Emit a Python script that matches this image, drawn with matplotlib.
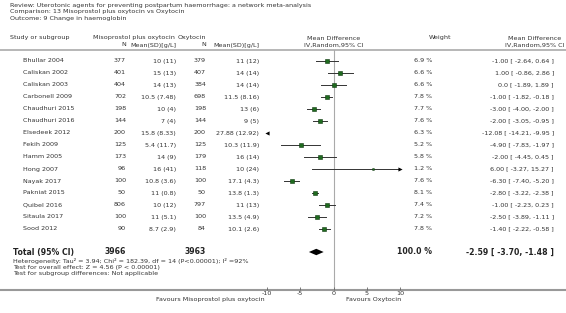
import numpy as np
import matplotlib
matplotlib.use("Agg")
import matplotlib.pyplot as plt

# data
studies = ["Bhullar 2004", "Caliskan 2002", "Caliskan 2003", "Carbonell 2009",
           "Chaudhuri 2015", "Chaudhuri 2016", "Elsedeek 2012", "Fekih 2009",
           "Hamm 2005", "Hong 2007", "Nayak 2017", "Pakniat 2015",
           "Quibel 2016", "Sitaula 2017", "Sood 2012"]
n_miso = [377, 401, 404, 702, 198, 144, 200, 125, 173, 96, 100, 50, 806, 100, 90]
msd_miso = ["10 (11)", "15 (13)", "14 (13)", "10.5 (7.48)", "10 (4)", "7 (4)",
            "15.8 (8.33)", "5.4 (11.7)", "14 (9)", "16 (41)", "10.8 (3.6)",
            "11 (0.8)", "10 (12)", "11 (5.1)", "8.7 (2.9)"]
n_oxy = [379, 407, 384, 698, 198, 144, 200, 125, 179, 118, 100, 50, 797, 100, 84]
msd_oxy = ["11 (12)", "14 (14)", "14 (14)", "11.5 (8.16)", "13 (6)", "9 (5)",
           "27.88 (12.92)", "10.3 (11.9)", "16 (14)", "10 (24)", "17.1 (4.3)",
           "13.8 (1.3)", "11 (13)", "13.5 (4.9)", "10.1 (2.6)"]
weights = [6.9, 6.6, 6.6, 7.8, 7.7, 7.6, 6.3, 5.2, 5.8, 1.2, 7.6, 8.1, 7.4, 7.2, 7.8]
md = [-1.00, 1.00, 0.0, -1.00, -3.00, -2.00, -12.08, -4.90, -2.00, 6.00,
      -6.30, -2.80, -1.00, -2.50, -1.40]
lo = [-2.64, -0.86, -1.89, -1.82, -4.00, -3.05, -14.21, -7.83, -4.45, -3.27,
      -7.40, -3.22, -2.23, -3.89, -2.22]
hi = [0.64, 2.86, 1.89, -0.18, -2.00, -0.95, -9.95, -1.97, 0.45, 15.27,
      -5.20, -2.38, 0.23, -1.11, -0.58]
md_txt = ["-1.00 [ -2.64, 0.64 ]", "1.00 [ -0.86, 2.86 ]", "0.0 [ -1.89, 1.89 ]",
          "-1.00 [ -1.82, -0.18 ]", "-3.00 [ -4.00, -2.00 ]", "-2.00 [ -3.05, -0.95 ]",
          "-12.08 [ -14.21, -9.95 ]", "-4.90 [ -7.83, -1.97 ]", "-2.00 [ -4.45, 0.45 ]",
          "6.00 [ -3.27, 15.27 ]", "-6.30 [ -7.40, -5.20 ]", "-2.80 [ -3.22, -2.38 ]",
          "-1.00 [ -2.23, 0.23 ]", "-2.50 [ -3.89, -1.11 ]", "-1.40 [ -2.22, -0.58 ]"]
total_md, total_lo, total_hi = -2.59, -3.70, -1.48
ticks = [-10, -5, 0, 5, 10]

W, H = 566, 313
fig = plt.figure(figsize=(W / 100, H / 100), dpi=100)
fig.patch.set_facecolor("white")

# full-figure axes in pixel units for the text table
tx = fig.add_axes([0, 0, 1, 1])
tx.set_xlim(0, W)
tx.set_ylim(H, 0)
tx.axis("off")

txt_col = "#333333"
fs = 4.6
kw = dict(fontsize=fs, color=txt_col, va="center", family="DejaVu Sans")

tx.text(10, 5.5, "Review: Uterotonic agents for preventing postpartum haemorrhage: a network meta-analysis", **kw)
tx.text(10, 12, "Comparison: 13 Misoprostol plus oxytocin vs Oxytocin", **kw)
tx.text(10, 18.5, "Outcome: 9 Change in haemoglobin", **kw)

tx.text(10, 38, "Study or subgroup", **kw)
tx.text(93, 38, "Misoprostol plus oxytocin", **kw)
tx.text(178, 38, "Oxytocin", **kw)
tx.text(126, 45, "N", ha="right", **kw)
tx.text(176, 45, "Mean(SD)[g/L]", ha="right", **kw)
tx.text(206, 45, "N", ha="right", **kw)
tx.text(259, 45, "Mean(SD)[g/L]", ha="right", **kw)
tx.text(334, 38, "Mean Difference", ha="center", **kw)
tx.text(334, 45, "IV,Random,95% CI", ha="center", **kw)
tx.text(440, 38, "Weight", ha="center", **kw)
tx.text(535, 38, "Mean Difference", ha="center", **kw)
tx.text(535, 45, "IV,Random,95% CI", ha="center", **kw)

tx.plot([0, W], [49.5, 49.5], color="#aaaaaa", lw=1.2)
tx.plot([0, W], [289.5, 289.5], color="#999999", lw=1.5)

row_y = 61 + 12 * np.arange(len(studies))
for i, y in enumerate(row_y):
    tx.text(23, y, studies[i], **kw)
    tx.text(126, y, str(n_miso[i]), ha="right", **kw)
    tx.text(176, y, msd_miso[i], ha="right", **kw)
    tx.text(206, y, str(n_oxy[i]), ha="right", **kw)
    tx.text(259, y, msd_oxy[i], ha="right", **kw)
    tx.text(432, y, f"{weights[i]:.1f} %", ha="right", **kw)
    tx.text(554, y, md_txt[i], ha="right", **kw)

bkw = dict(fontsize=5.6, color="#222222", va="center", fontweight="bold", family="DejaVu Sans")
tx.text(13, 252, "Total (95% CI)", **bkw)
tx.text(126, 252, str(sum(n_miso)), ha="right", **bkw)
tx.text(206, 252, str(sum(n_oxy)), ha="right", **bkw)
tx.text(432, 252, "100.0 %", ha="right", **bkw)
tx.text(554, 252, f"{total_md:.2f} [ {total_lo:.2f}, {total_hi:.2f} ]", ha="right", **bkw)
tx.text(13, 260.5, "Heterogeneity: Tau\u00b2 = 3.94; Chi\u00b2 = 182.39, df = 14 (P<0.00001); I\u00b2 =92%", **kw)
tx.text(13, 267.5, "Test for overall effect: Z = 4.56 (P < 0.00001)", **kw)
tx.text(13, 274, "Test for subgroup differences: Not applicable", **kw)

tx.text(265, 300, "Favours Misoprostol plus oxytocin", ha="right", **kw)
tx.text(346, 300, "Favours Oxytocin", **kw)

# forest axes: x in mean-difference units, y in pixel rows
x0, x1 = 267, 400
ax = fig.add_axes([x0 / W, 1 - 289.5 / H, (x1 - x0) / W, (289.5 - 49.5) / H])
ax.set_xlim(-10, 10)
ax.set_ylim(289.5, 49.5)
for s in ax.spines.values():
    s.set_visible(False)
ax.patch.set_alpha(0)
ax.set_yticks([])
ax.set_xticks(ticks)
ax.set_xticklabels([str(t) for t in ticks])
ax.tick_params(axis="x", direction="in", length=2.5, width=0.6, color="#666666",
               labelsize=fs, labelcolor=txt_col, pad=1)
ax.axvline(0, color="#aaaaaa", lw=0.8, zorder=0)

sq_col = "#1f6b1f"
for i, y in enumerate(row_y):
    a, b = max(lo[i], -10), min(hi[i], 10)
    ax.plot([a, b], [y, y], color="#333333", lw=0.7)
    if lo[i] < -10:
        ax.plot([-10], [y], marker="<", ms=3, color="black", mew=0,
                clip_on=False, zorder=5)
    if hi[i] > 10:
        ax.plot([10], [y], marker=">", ms=3, color="black", mew=0,
                clip_on=False, zorder=5)
    if -10 <= md[i] <= 10:
        side = np.sqrt(weights[i]) * 1.6 * 0.72
        ax.plot([md[i]], [y], marker="s", ms=side, mfc=sq_col, mec="#103810", mew=0.4)

dy = 3.2
ax.fill([total_lo, total_md, total_hi, total_md], [252, 252 - dy, 252, 252 + dy],
        color="black", lw=0)

fig.savefig("out.png", dpi=100, facecolor="white")
